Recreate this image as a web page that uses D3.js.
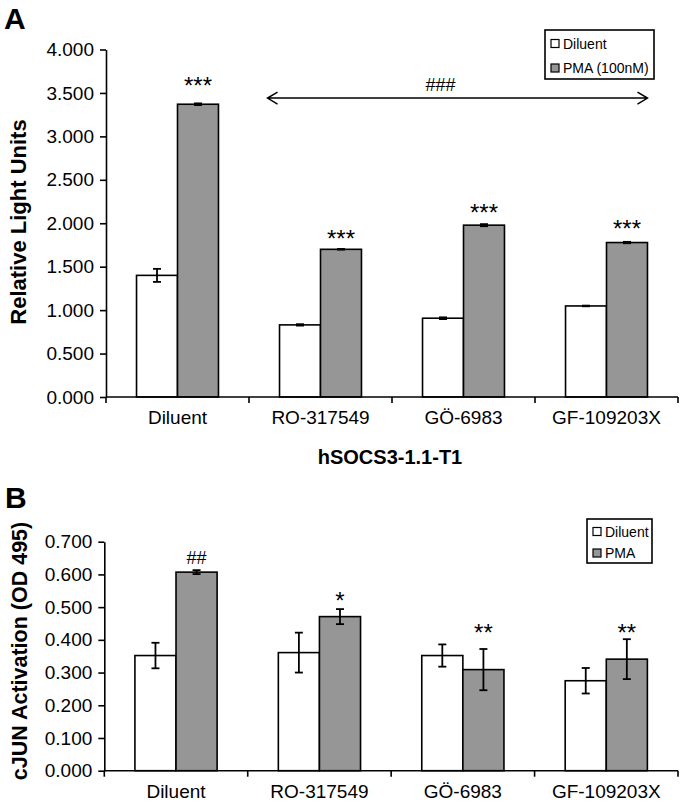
<!DOCTYPE html>
<html><head><meta charset="utf-8">
<script src="https://cdn.jsdelivr.net/npm/d3@7"></script>
<style>
body{margin:0;background:#fff}
text{font-family:"Liberation Sans",Arial,Helvetica,sans-serif;fill:#000}
</style>
</head><body>
<svg id="c" width="686" height="804"></svg>
<script>
// ---------- data ----------
const categories = ["Diluent", "RO-317549", "GÖ-6983", "GF-109203X"];

// Panel A: hSOCS3-1.1-T1 luciferase
const seriesA = ["Diluent", "PMA (100nM)"];
const diluentA    = [1.400, 0.830, 0.907, 1.048];
const diluentAErr = [0.075, 0.008, 0.010, 0.004];
const pmaA        = [3.370, 1.700, 1.978, 1.778];
const pmaAErr     = [0.010, 0.004, 0.012, 0.008];
const annotA      = ["***", "***", "***", "***"];
const annotALevel = [3.638, 1.881, 2.175, 1.991];
const ticksA      = [0, 0.5, 1.0, 1.5, 2.0, 2.5, 3.0, 3.5, 4.0];
const hashA = "###";
const hashALevel = 3.594;
const arrowALevel = 3.441;

// Panel B: cJUN activation
const seriesB = ["Diluent", "PMA"];
const diluentB    = [0.352, 0.361, 0.352, 0.275];
const diluentBErr = [0.039, 0.061, 0.034, 0.039];
const pmaB        = [0.607, 0.471, 0.309, 0.341];
const pmaBErr     = [0.006, 0.023, 0.063, 0.061];
const annotB      = ["##", "*", "**", "**"];
const annotBLevel = [0.651, 0.534, 0.436, 0.436];
const ticksB      = [0, 0.1, 0.2, 0.3, 0.4, 0.5, 0.6, 0.7];

// ---------- drawing ----------
const svg = d3.select("#c");
const fills = ["#ffffff", "#969696"];
const FONT_TICK = 19, FONT_CAT = 19, FONT_STAR = 24, FONT_HASH = 18;

function annAttrs(label) {
  const star = label.includes("*");
  return {size: star ? FONT_STAR : FONT_HASH, shift: star ? 0.55 : 0.36};
}

function panel(cfg) {
  const g = svg.append("g");
  const x0 = d3.scaleBand().domain(categories).range([cfg.left, cfg.right]).padding(0);
  const x1 = d3.scaleBand().domain([0, 1]).range([0, x0.bandwidth()]).paddingInner(0).paddingOuter(0.745);
  const y = d3.scaleLinear().domain([0, cfg.max]).range([cfg.bottom, cfg.top]);

  const rows = categories.map((c, i) => ({
    cat: c,
    vals: [
      {s: 0, v: cfg.dil[i], e: cfg.dilErr[i]},
      {s: 1, v: cfg.pma[i], e: cfg.pmaErr[i]}
    ]
  }));
  const grp = g.selectAll("g.cat").data(rows).join("g")
    .attr("transform", d => `translate(${x0(d.cat)},0)`);
  grp.selectAll("rect").data(d => d.vals).join("rect")
    .attr("x", d => x1(d.s))
    .attr("width", x1.bandwidth())
    .attr("y", d => y(d.v))
    .attr("height", d => y(0) - y(d.v))
    .attr("fill", d => fills[d.s])
    .attr("stroke", "#000").attr("stroke-width", 1.6);
  const eb = grp.selectAll("g.err").data(d => d.vals).join("g")
    .attr("transform", d => `translate(${x1(d.s) + x1.bandwidth() / 2},0)`)
    .attr("stroke", "#000").attr("stroke-width", 1.8);
  eb.append("line").attr("y1", d => y(d.v - d.e)).attr("y2", d => y(d.v + d.e));
  eb.append("line").attr("x1", -4).attr("x2", 4).attr("y1", d => y(d.v + d.e)).attr("y2", d => y(d.v + d.e));
  eb.append("line").attr("x1", -4).attr("x2", 4).attr("y1", d => y(d.v - d.e)).attr("y2", d => y(d.v - d.e));

  // annotations above PMA bars
  g.selectAll("text.ann").data(categories).join("text")
    .attr("text-anchor", "middle")
    .attr("font-size", (d, i) => annAttrs(cfg.ann[i]).size)
    .attr("x", (d, i) => x0(d) + x1(1) + x1.bandwidth() / 2)
    .attr("y", (d, i) => { const a = annAttrs(cfg.ann[i]); return y(cfg.annLevel[i]) + a.shift * a.size; })
    .text((d, i) => cfg.ann[i]);

  // y axis
  const ya = d3.axisLeft(y).tickValues(cfg.ticks).tickFormat(d3.format(".3f"))
    .tickSize(6).tickSizeOuter(0).tickPadding(6);
  const yg = g.append("g").attr("transform", `translate(${cfg.left},0)`).call(ya);
  yg.selectAll("text").attr("font-size", FONT_TICK).attr("font-family", null);
  yg.selectAll("line,path").attr("stroke", "#000").attr("stroke-width", 1.6);

  // x axis line and boundary ticks
  g.append("line").attr("x1", cfg.left).attr("x2", cfg.right)
    .attr("y1", y(0)).attr("y2", y(0)).attr("stroke", "#000").attr("stroke-width", 1.6);
  const bounds = categories.map(c => x0(c)).concat([cfg.right]);
  g.selectAll("line.xt").data(bounds).join("line")
    .attr("x1", d => d).attr("x2", d => d)
    .attr("y1", y(0)).attr("y2", y(0) + 6)
    .attr("stroke", "#000").attr("stroke-width", 1.6);
  g.selectAll("text.cat").data(categories).join("text")
    .attr("text-anchor", "middle").attr("font-size", FONT_CAT)
    .attr("x", d => x0(d) + x0.bandwidth() / 2)
    .attr("y", cfg.catBaseline)
    .text(d => d);

  // y title
  g.append("text")
    .attr("transform", `translate(${cfg.ytitleX},${cfg.ytitleY}) rotate(-90)`)
    .attr("text-anchor", "middle").attr("font-size", cfg.ytitleSize).attr("font-weight", "bold")
    .text(cfg.ytitle);

  // panel letter
  g.append("text").attr("x", cfg.letterX).attr("y", cfg.letterY)
    .attr("font-size", 30).attr("font-weight", "bold").text(cfg.letter);

  // legend
  const lg = g.append("g").attr("transform", `translate(${cfg.leg.x},${cfg.leg.y})`);
  lg.append("rect").attr("width", cfg.leg.w).attr("height", cfg.leg.h)
    .attr("fill", "#fff").attr("stroke", "#000").attr("stroke-width", 1.6);
  cfg.series.forEach((s, i) => {
    const cy = cfg.leg.first + i * cfg.leg.step;
    lg.append("rect").attr("x", 6).attr("y", cy - 4).attr("width", 8).attr("height", 8)
      .attr("fill", fills[i]).attr("stroke", "#000").attr("stroke-width", 1.2);
    lg.append("text").attr("x", 18).attr("y", cy + 5).attr("font-size", 14).text(s);
  });

  return {x0, x1, y, g};
}

const A = panel({
  left: 106, right: 678, top: 49.5, bottom: 397, max: 4,
  dil: diluentA, dilErr: diluentAErr, pma: pmaA, pmaErr: pmaAErr,
  ann: annotA, annLevel: annotALevel, ticks: ticksA,
  catBaseline: 424, ytitle: "Relative Light Units", ytitleX: 26, ytitleY: 222, ytitleSize: 22,
  letter: "A", letterX: 4, letterY: 29,
  series: seriesA,
  leg: {x: 545, y: 30, w: 109, h: 49, first: 13.5, step: 24.5}
});

// arrow spanning the inhibitor groups (panel A)
{
  const {x0, x1, y, g} = A;
  const xs = x0(categories[1]) + x1(0) - 12;
  const xe = x0(categories[3]) + x1(1) + x1.bandwidth();
  const ya = y(arrowALevel);
  g.append("path")
    .attr("d", `M${xs},${ya}H${xe}M${xs + 10},${ya - 6}L${xs},${ya}L${xs + 10},${ya + 6}M${xe - 10},${ya - 6}L${xe},${ya}L${xe - 10},${ya + 6}`)
    .attr("stroke", "#000").attr("stroke-width", 1.5).attr("fill", "none");
  g.append("text").attr("text-anchor", "middle").attr("font-size", FONT_HASH)
    .attr("x", xs + (xe - xs) * 0.455)
    .attr("y", y(hashALevel) + 0.36 * FONT_HASH)
    .text(hashA);
}

// panel title under A
svg.append("text").attr("x", 390).attr("y", 464).attr("text-anchor", "middle")
  .attr("font-size", 20).attr("font-weight", "bold").text("hSOCS3-1.1-T1");

panel({
  left: 104.3, right: 678, top: 541.7, bottom: 770.7, max: 0.7,
  dil: diluentB, dilErr: diluentBErr, pma: pmaB, pmaErr: pmaBErr,
  ann: annotB, annLevel: annotBLevel, ticks: ticksB,
  catBaseline: 798, ytitle: "cJUN Activation (OD 495)", ytitleX: 27, ytitleY: 651, ytitleSize: 21.5,
  letter: "B", letterX: 5, letterY: 508,
  series: seriesB,
  leg: {x: 587, y: 519, w: 65, h: 44, first: 12.5, step: 21.5}
});
</script>
</body></html>
